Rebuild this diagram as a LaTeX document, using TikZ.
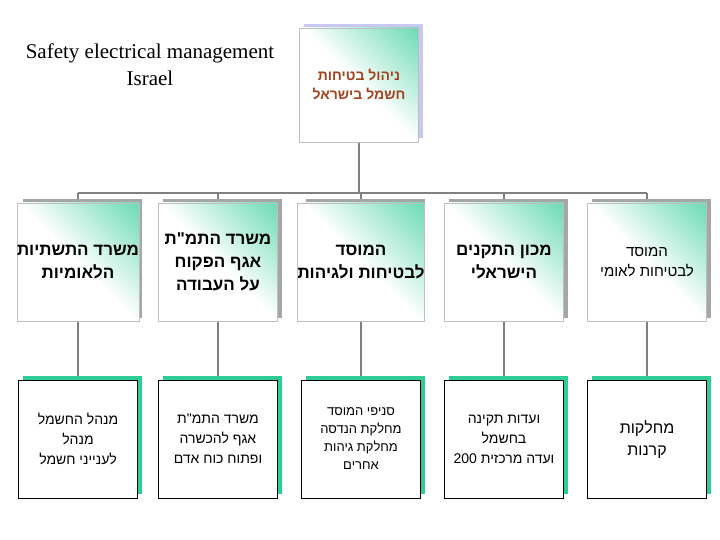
\documentclass[tikz,border=0pt]{standalone}
\usepackage{fontspec}
\setmainfont{Liberation Serif}
\newfontfamily\heb[Script=Hebrew]{Liberation Sans}
\TeXXeTstate=1
\definecolor{tealc}{HTML}{2ECC96}
\definecolor{lnc}{HTML}{808080}
\definecolor{brn}{HTML}{A4421E}
\definecolor{lav}{HTML}{C8C8F0}
\pgfdeclareverticalshading{myfade}{100bp}{color(0bp)=(white); color(50bp)=(white); color(100bp)=(tealc)}
\tikzset{
 gbox/.style={minimum width=119pt,minimum height=118pt,draw=black!25,line width=0.6pt,shading=myfade,shading angle=-45,align=center,inner sep=0pt},
 wbox/.style={minimum width=119pt,minimum height=118pt,draw=black,line width=0.8pt,fill=white,align=center,inner sep=0pt},
 conn/.style={lnc,line width=2.5pt}
}
\begin{document}
\begin{tikzpicture}[x=1pt,y=-1pt]
\useasboundingbox (0,0) rectangle (720,540);
\fill[white] (0,0) rectangle (720,540);
\node[align=center,font=\fontsize{21}{27}\selectfont] (title) at (150,65) {Safety electrical management\\Israel};
\coordinate (bar) at (359,193);
\foreach \x/\n in {78/a,218/b,361/c,504/d,647/e}{
  \coordinate (m\n) at (\x,262);
  \coordinate (b\n) at (\x,438);
  \coordinate (t\n) at (\x,193);
}
\draw[conn] (ta) -- (te);
\draw[conn] (359,140) -- (bar);
\foreach \n in {a,b,c,d,e}{\draw[conn] (t\n) -- (m\n) -- (b\n);}
\fill[lav] (304,24) rectangle (423,138);
\node[gbox,minimum height=114pt,font=\heb\bfseries\fontsize{14}{19}\selectfont,text=brn] (top) at (359,85) {\beginR ניהול בטיחות\endR\\\beginR חשמל בישראל\endR};
\foreach \x/\t in {78/{\beginR משרד התשתיות\endR\\\beginR הלאומיות\endR},
 218/{\beginR משרד התמ"ת\endR\\\beginR אגף הפקוח\endR\\\beginR על העבודה\endR},
 361/{\beginR המוסד\endR\\\beginR לבטיחות ולגיהות\endR},
 504/{\beginR מכון התקנים\endR\\\beginR הישראלי\endR}}{
  \fill[black!35] (\x-55,199) rectangle (\x+64,318);
  \node[gbox,font=\heb\bfseries\fontsize{17}{23}\selectfont] at (\x,262) {\t};
}
\fill[black!35] (647-55,199) rectangle (647+64,318);
\node[gbox,font=\heb\fontsize{15}{20}\selectfont] (me) at (647,262) {\beginR המוסד\endR\\\beginR לבטיחות לאומי\endR};
\foreach \x/\t/\f/\g in {78/{\beginR מנהל החשמל\endR\\\beginR מנהל\endR\\\beginR לענייני חשמל\endR}/14/20,
 218/{\beginR משרד התמ"ת\endR\\\beginR אגף להכשרה\endR\\\beginR ופתוח כוח אדם\endR}/14/20,
 361/{\beginR סניפי המוסד\endR\\\beginR מחלקת הנדסה\endR\\\beginR מחלקת גיהות\endR\\\beginR אחרים\endR}/13/18,
 504/{\beginR ועדות תקינה\endR\\\beginR בחשמל\endR\\\beginR ועדה מרכזית \beginL200\endL\endR}/14/20,
 647/{\beginR מחלקות\endR\\\beginR קרנות\endR}/16/22}{
  \fill[tealc] (\x-55,376) rectangle (\x+64,494);
  \node[wbox,font=\heb\fontsize{\f}{\g}\selectfont] at (\x,439) {\t};
}
\end{tikzpicture}
\end{document}
